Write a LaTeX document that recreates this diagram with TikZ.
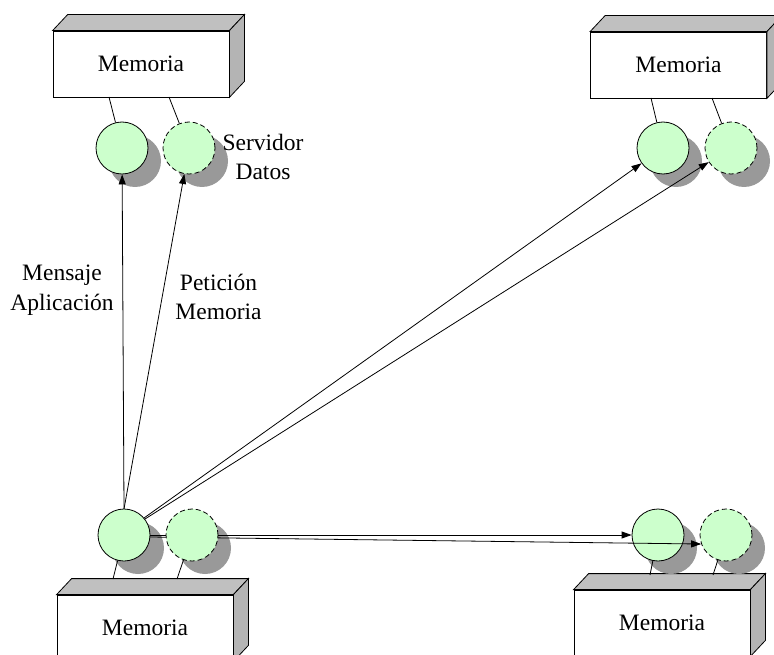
\documentclass[tikz,border=0pt]{standalone}
\usepackage{fontspec}
\setmainfont{Liberation Serif}
\usetikzlibrary{arrows.meta}
\definecolor{nodegreen}{HTML}{CCFFCC}
\definecolor{shadowgray}{HTML}{999999}
\definecolor{facegray}{HTML}{C0C0C0}
\definecolor{sidegray}{HTML}{B4B4B4}
% top and right faces of a memory block
\newcommand\memfaces[1]{%
  \draw[link, fill=facegray] (#1.north west) -- ++(15,-16)
    -- ([shift={(15,-16)}]#1.north east) -- (#1.north east) -- cycle;
  \draw[link, fill=sidegray] (#1.north east) -- ++(15,-16)
    -- ([shift={(15,-16)}]#1.south east) -- (#1.south east) -- cycle;
}
\begin{document}
\begin{tikzpicture}[x=1pt,y=-1pt,
  every node/.style={font=\fontsize{23.5}{29.5}\selectfont},
  membox/.style={draw, line width=0.8pt, fill=white, minimum width=176pt,
    minimum height=66pt, inner sep=0pt},
  site/.style={circle, draw, line width=0.8pt, fill=nodegreen,
    minimum size=52pt, inner sep=0pt},
  dsite/.style={site, dash pattern=on 5pt off 3pt},
  shade/.style={circle, fill=shadowgray, minimum size=52pt, inner sep=0pt},
  link/.style={line width=0.8pt},
  msg/.style={line width=0.8pt, -{Triangle[length=10pt,width=7pt]}},
  lbl/.style={align=center, inner sep=0pt}
]
\useasboundingbox (0,0) rectangle (774,655);
\clip (0,0) rectangle (774,655);

% memory blocks
\node[membox] (m1) at (141,64) {Memoria};
\memfaces{m1}
\node[membox] (m2) at (678.5,65) {Memoria};
\memfaces{m2}
\node[membox] (m3) at (145,628) {Memoria};
\memfaces{m3}
\node[membox] (m4) at (662,623) {Memoria};
\memfaces{m4}

% shadows of the sites
\node[shade] (tl1s) at (135,161) {};
\node[shade] (tl2s) at (202,161) {};
\node[shade] (tr1s) at (676,161) {};
\node[shade] (tr2s) at (744,161) {};
\node[shade] (bl1s) at (138,548) {};
\node[shade] (bl2s) at (205,548) {};
\node[shade] (br1s) at (671,548) {};
\node[shade] (br2s) at (739,548) {};

% attachment points on the memory blocks
\coordinate (a1) at (109,97);
\coordinate (a2) at (169,97);
\coordinate (a3) at (651,98);
\coordinate (a4) at (712,98);
\coordinate (a5) at (113,579);
\coordinate (a6) at (177,579);
\coordinate (a7) at (650,575);
\coordinate (a8) at (713,575);

% sites
\node[site]  (tl1) at (122,148) {};
\node[dsite] (tl2) at (189,148) {};
\node[site]  (tr1) at (663,148) {};
\node[dsite] (tr2) at (731,148) {};
\node[site]  (br1) at (658,535) {};
\node[dsite] (br2) at (726,535) {};

\draw[link] (a1) -- (tl1);
\draw[link] (a2) -- (tl2);
\draw[link] (a3) -- (tr1);
\draw[link] (a4) -- (tr2);
\draw[link] (a7) -- (br1);
\draw[link] (a8) -- (br2);

% messages
\coordinate (src) at (124,535);
\draw[msg] (src) ++(0,-26) -- (tl1);
\draw[msg] (src) ++(0,-26) -- (tl2);
\draw[msg] (src) ++(20,-17) -- (tr1);
\draw[msg] (src) ++(21,-16) -- (tr2);
\draw[msg] (src) ++(26,0) -- (br1);
\draw[msg] (src) ++(26,2) -- (br2.200);

\node[site]  (bl1) at (src) {};
\node[dsite] (bl2) at (192,535) {};
\draw[link] (a5) -- (bl1);
\draw[link] (a6) -- (bl2);

% labels
\node[lbl] (sd) at (263,157) {Servidor\\Datos};
\node[lbl] (ma) at (62,290) {Mensaje\\Aplicación};
\node[lbl] (pm) at (218.5,297) {Petición\\Memoria};
\end{tikzpicture}
\end{document}
